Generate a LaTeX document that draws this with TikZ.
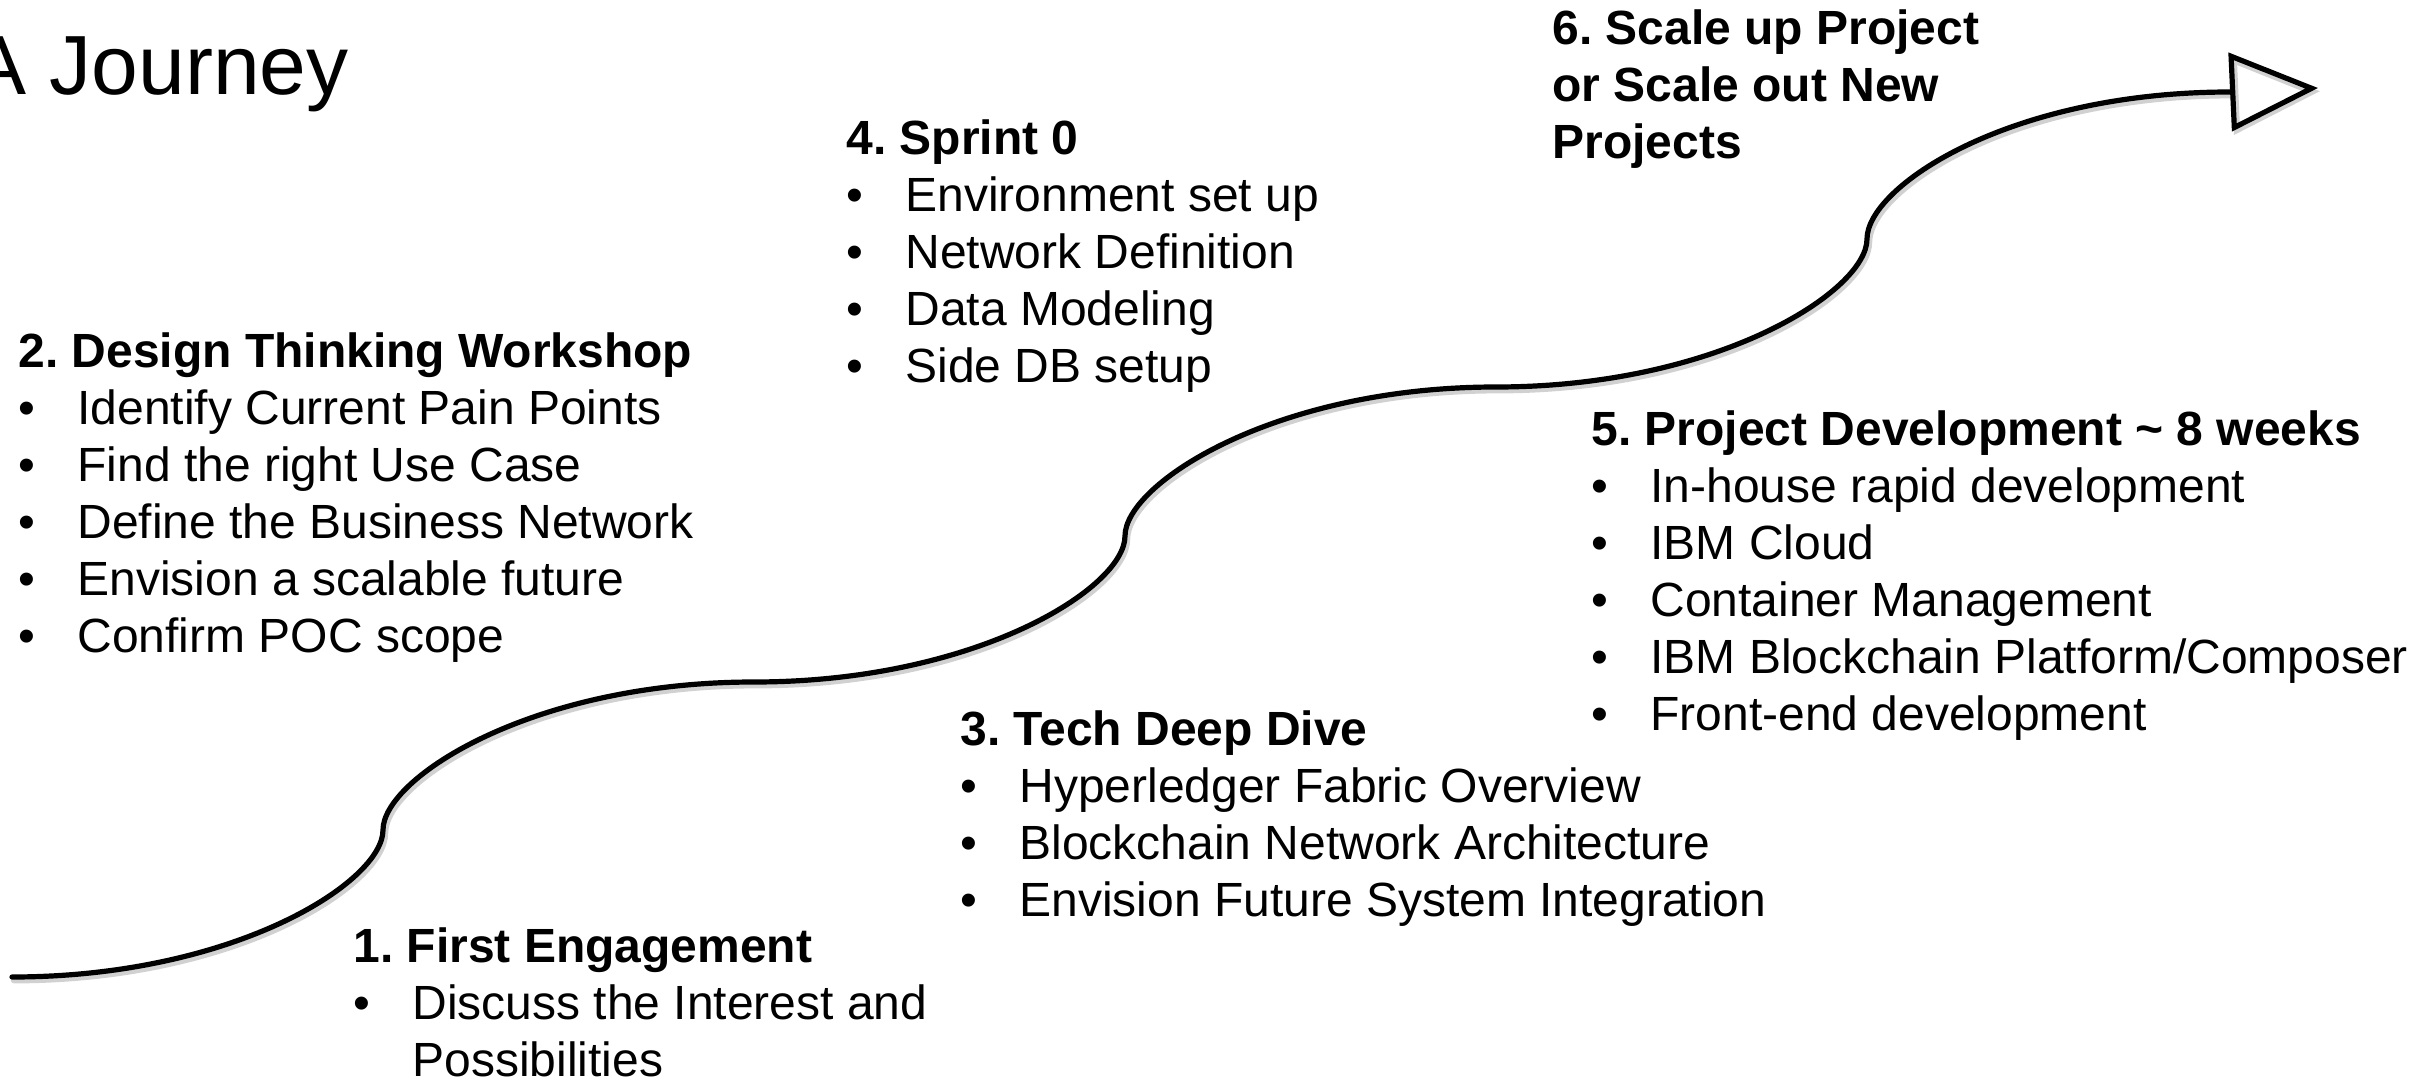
\documentclass[tikz,border=0pt]{standalone}
\usepackage{fontspec}
\setmainfont{Liberation Sans}
\usetikzlibrary{arrows.meta}
\frenchspacing
\newcommand\hd[1]{\hbox{\bfseries #1}}
\newcommand\bul[1]{\hbox{\makebox[29.5pt][l]{•}#1}}
\newcommand\cont[1]{\hbox{\hspace{29.5pt}#1}}
\newcommand\journeypath{(F0) .. controls +(222,0) and +(0,52) .. (I1)
  .. controls +(0,-52) and +(-222,0) .. (F1)
  .. controls +(222,0) and +(0,52) .. (I2)
  .. controls +(0,-52) and +(-222,0) .. (F2)
  .. controls +(222,0) and +(0,52) .. (I3)
  .. controls +(0,-52) and +(-222,0) .. (F3) -- (tip)}
\tikzset{
  blk/.style={anchor=base west, inner sep=0pt, font=\fontsize{24}{28.5}\selectfont},
  journey/.style={line width=2.6pt, line cap=round,
    -{Triangle[open, length=44pt, width=39pt]}},
  jshadow/.style={journey, draw=black!18, line width=3.2pt,
    transform canvas={shift={(1pt,-1.6pt)}}}
}
\begin{document}
\begin{tikzpicture}[x=0.5pt, y=-0.5pt]
\useasboundingbox (0,0) rectangle (2417,1081);
% title
\node[anchor=base west, inner sep=0pt, font=\fontsize{42}{50}\selectfont] (title) at (-30,95) {A Journey};
% curve points
\coordinate (F0) at (12,977);
\coordinate (I1) at (383,830);
\coordinate (F1) at (754,682);
\coordinate (I2) at (1125,536);
\coordinate (F2) at (1496,387);
\coordinate (I3) at (1867,239);
\coordinate (F3) at (2230,92);
\coordinate (tip) at (2318,88);
\draw[jshadow] \journeypath;
\draw[journey] \journeypath;
% text blocks
\node[blk] (b1) at (353,962) {\vtop{\hd{1. First Engagement}
  \bul{Discuss the Interest and}\cont{Possibilities}}};
\node[blk] (b2) at (18,367) {\vtop{\hd{2. Design Thinking Workshop}
  \bul{Identify Current Pain Points}
  \bul{Find the right Use Case}
  \bul{Define the Business Network}
  \bul{Envision a scalable future}
  \bul{Confirm POC scope}}};
\node[blk] (b3) at (960,745) {\vtop{\hd{3. Tech Deep Dive}
  \bul{Hyperledger Fabric Overview}
  \bul{Blockchain Network Architecture}
  \bul{Envision Future System Integration}}};
\node[blk] (b4) at (846,155) {\vtop{\hd{4. Sprint 0}
  \bul{Environment set up}
  \bul{Network Definition}
  \bul{Data Modeling}
  \bul{Side DB setup}}};
\node[blk] (b5) at (1591,445) {\vtop{\hd{5. Project Development \textasciitilde{} 8 weeks}
  \bul{In-house rapid development}
  \bul{IBM Cloud}
  \bul{Container Management}
  \bul{IBM Blockchain Platform/Composer}
  \bul{Front-end development}}};
\node[blk] (b6) at (1552,45) {\vtop{\hd{6. Scale up Project}
  \hd{or Scale out New}
  \hd{Projects}}};
\end{tikzpicture}
\end{document}
